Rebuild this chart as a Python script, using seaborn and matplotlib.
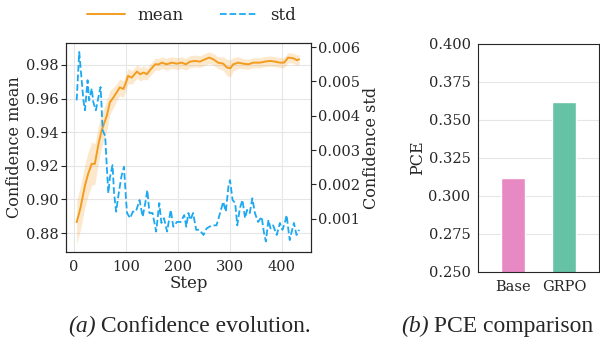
import numpy as np
import pandas as pd
import seaborn as sns
import matplotlib.pyplot as plt

# confidence mean over training steps
steps_mean = [5, 12, 21, 27, 34, 40, 47, 53, 63, 69,
              76, 82, 88, 95, 101, 104, 111, 121, 127, 134,
              140, 146, 156, 163, 169, 178, 188, 198, 207, 215,
              223, 233, 242, 252, 260, 268, 277, 287, 294, 301,
              306, 316, 325, 335, 345, 358, 367, 377, 387, 396,
              404, 412, 422, 429, 433]
conf_mean = [0.8865, 0.8945, 0.9083, 0.9152, 0.9212, 0.9212, 0.933, 0.941, 0.9498, 0.9578,
             0.9608, 0.9637, 0.9667, 0.9657, 0.9706, 0.9735, 0.9725, 0.9761, 0.9745, 0.9755,
             0.9745, 0.9769, 0.9804, 0.9804, 0.9814, 0.9804, 0.9814, 0.9808, 0.9814, 0.9804,
             0.982, 0.9824, 0.982, 0.9834, 0.9844, 0.9834, 0.9814, 0.9808, 0.9785, 0.9781,
             0.9804, 0.9814, 0.9808, 0.9804, 0.9814, 0.9814, 0.982, 0.9824, 0.982, 0.9814,
             0.9814, 0.9844, 0.984, 0.9828, 0.9834]
band_half = [0.013, 0.013, 0.013, 0.013, 0.013, 0.012, 0.011, 0.010, 0.009, 0.007,
             0.006, 0.005, 0.005, 0.005, 0.0045, 0.0045, 0.004, 0.004, 0.004, 0.004,
             0.0035, 0.0035, 0.0035, 0.0035, 0.0035, 0.0035, 0.0035, 0.0035, 0.0035, 0.0035,
             0.0035, 0.0035, 0.0035, 0.0035, 0.0035, 0.0035, 0.0035, 0.004, 0.005, 0.005,
             0.004, 0.0035, 0.003, 0.003, 0.003, 0.003, 0.003, 0.003, 0.003, 0.003,
             0.003, 0.003, 0.003, 0.003, 0.003]

# confidence std over training steps
steps_std = [5, 10, 13, 18, 21, 26, 29, 34, 37, 42,
             47, 51, 53, 55, 60, 63, 66, 69, 74, 77,
             81, 85, 91, 96, 100, 102, 108, 113, 119, 126,
             132, 137, 141, 145, 151, 158, 164, 168, 173, 179,
             186, 191, 198, 205, 212, 216, 220, 224, 229, 235,
             241, 249, 255, 265, 274, 281, 287, 292, 297, 300,
             305, 310, 314, 319, 324, 329, 333, 338, 343, 348,
             354, 361, 365, 369, 374, 378, 383, 390, 396, 401,
             406, 409, 412, 415, 418, 423, 428, 433]
conf_std = [0.00445, 0.00586, 0.00533, 0.00445, 0.00416, 0.00504, 0.00445, 0.0048, 0.0044, 0.00416,
            0.00455, 0.00484, 0.00426, 0.00358, 0.0034, 0.0025, 0.00174, 0.0022, 0.00256, 0.00174,
            0.0012, 0.00164, 0.00222, 0.00251, 0.00154, 0.00116, 0.00101, 0.0012, 0.0012, 0.00154,
            0.00105, 0.00145, 0.00183, 0.00116, 0.00116, 0.00062, 0.00145, 0.00087, 0.00101, 0.00062,
            0.00125, 0.00076, 0.0009, 0.0009, 0.0011, 0.00076, 0.00116, 0.00096, 0.00116, 0.00067,
            0.00067, 0.00052, 0.00071, 0.0008, 0.0008, 0.00116, 0.00149, 0.0012, 0.00193, 0.00212,
            0.00154, 0.00145, 0.0008, 0.0013, 0.00154, 0.00101, 0.00125, 0.00116, 0.00159, 0.00116,
            0.0009, 0.00105, 0.00062, 0.00033, 0.00096, 0.00071, 0.0008, 0.00052, 0.00087, 0.00067,
            0.0009, 0.0011, 0.00071, 0.00037, 0.00057, 0.00087, 0.00052, 0.00067]

# PCE comparison
models = ["Base", "GRPO"]
pce = [0.312, 0.362]

orange = "#F39C1F"
blue = "#1CA9F2"

sns.set_style("whitegrid", {"axes.edgecolor": "0.15", "grid.color": "#e6e6e6"})
plt.rcParams["font.family"] = ["DejaVu Serif"]
plt.rcParams["xtick.major.size"] = 3.5
plt.rcParams["ytick.major.size"] = 3.5
plt.rcParams["xtick.major.width"] = 0.8
plt.rcParams["ytick.major.width"] = 0.8

fig = plt.figure(figsize=(6, 3.37), dpi=100)

# (a) confidence evolution
ax = fig.add_axes([0.11, 0.252, 0.408, 0.620])
lo = np.array(conf_mean) - np.array(band_half)
hi = np.array(conf_mean) + np.array(band_half)
ax.fill_between(steps_mean, lo, hi, color=orange, alpha=0.22, linewidth=0)
sns.lineplot(x=steps_mean, y=conf_mean, ax=ax, color=orange, linewidth=1.4, label="mean", legend=False)
ax.set_xlim(-15.5, 455.5)
ax.set_ylim(0.8687, 0.993)
ax.set_xticks([0, 100, 200, 300, 400])
ax.set_yticks([0.88, 0.90, 0.92, 0.94, 0.96, 0.98])
ax.set_xlabel("Step", fontsize=12, labelpad=1)
ax.set_ylabel("Confidence mean", fontsize=11.5, labelpad=2)
ax.tick_params(labelsize=10.5, pad=2)

ax2 = ax.twinx()
sns.lineplot(x=steps_std, y=conf_std, ax=ax2, color=blue, linewidth=1.3, linestyle="--", label="std", legend=False)
ax2.set_ylim(0.00002, 0.00612)
ax2.set_yticks([0.001, 0.002, 0.003, 0.004, 0.005, 0.006])
ax2.grid(False)
ax2.set_ylabel("Confidence std", fontsize=11.5, labelpad=2)
ax2.tick_params(labelsize=10.5, pad=2)
for s in ax2.spines.values():
    s.set_color("0.15")

h1, l1 = ax.get_legend_handles_labels()
h2, l2 = ax2.get_legend_handles_labels()
fig.legend(h1 + h2, l1 + l2, loc="center", bbox_to_anchor=(0.319, 0.955), ncol=2,
           frameon=False, fontsize=12, handlelength=2.27, handletextpad=0.78, columnspacing=2.15)

# (b) PCE comparison
bx = fig.add_axes([0.797, 0.193, 0.2017, 0.677])
df = pd.DataFrame({"model": models, "pce": pce})
sns.barplot(data=df, x="model", y="pce", hue="model", palette=["#E78AC3", "#66C2A5"],
            width=0.47, ax=bx, legend=False, saturation=1)
bx.set_xlim(-0.69, 1.69)
bx.set_ylim(0.25, 0.40)
bx.set_yticks([0.25, 0.275, 0.30, 0.325, 0.35, 0.375, 0.40])
bx.yaxis.set_major_formatter(plt.FormatStrFormatter("%.3f"))
bx.grid(axis="x", visible=False)
bx.set_xlabel("")
bx.set_ylabel("PCE", fontsize=11.5, labelpad=2)
bx.tick_params(labelsize=10.5, pad=2)

# captions
cap = {"family": ["Liberation Serif"], "fontsize": 17}
t = fig.text(0.113, 0.016, "(a)", style="italic", va="baseline", **cap)
ax.annotate(" Confidence evolution.", xy=(1, 0), xycoords=t, va="bottom", annotation_clip=False, **cap)
t2 = fig.text(0.668, 0.016, "(b)", style="italic", va="baseline", **cap)
bx.annotate(" PCE comparison", xy=(1, 0), xycoords=t2, va="bottom", annotation_clip=False, **cap)

fig.savefig("out.png", dpi=100)
